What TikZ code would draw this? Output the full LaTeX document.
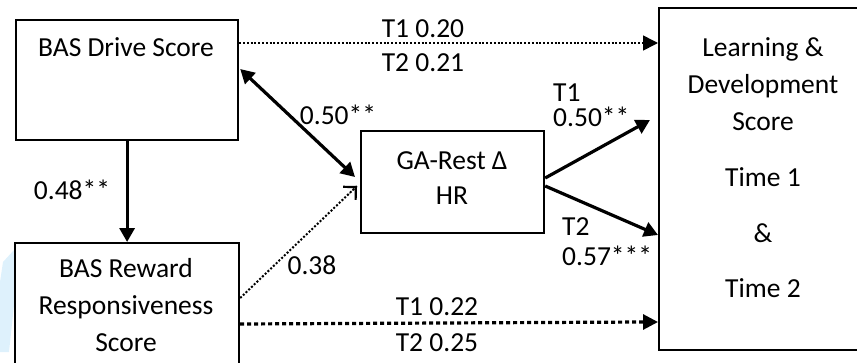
\documentclass[tikz,border=0pt]{standalone}
\usepackage{fontspec}
\setmainfont{Carlito}
\usetikzlibrary{arrows.meta,calc}
\definecolor{wm}{RGB}{222,241,252}
\begin{document}
\begin{tikzpicture}[x=1pt,y=-1pt,
  font=\fontsize{27.5}{37}\selectfont,
  box/.style={draw, line width=2.2pt, inner sep=0pt, anchor=north west},
  txt/.style={inner sep=0pt, align=center},
  solidarr/.style={line width=3.2pt, -{Triangle[length=14pt,width=15pt]}},
  dblarr/.style={line width=3.2pt, {Triangle[length=14pt,width=15pt]}-{Triangle[length=14pt,width=15pt]}},
  thindot/.style={line width=2pt, dash pattern=on 2pt off 1.8pt},
  thickdot/.style={line width=3.2pt, dash pattern=on 4pt off 3pt},
  filltip/.style={-{Triangle[length=15pt,width=15pt]}},
  opentip/.style={-{Straight Barb[length=9pt,width=18pt,line width=2.2pt]}}
]
\clip (0,0) rectangle (857,362);
\useasboundingbox (0,0) rectangle (857,362);
% watermark
\fill[wm] (3,262) -- (14,250) -- (14,305) -- (9,352) -- (0,352) -- (0,282) -- cycle;
% boxes
\node[box, minimum width=222pt, minimum height=120pt] (drive) at (15,19) {};
\node[box, minimum width=224pt, minimum height=140pt] (reward) at (14,242) {};
\node[box, minimum width=183pt, minimum height=102pt] (ga) at (360,130) {};
\node[box, minimum width=230pt, minimum height=342pt] (learn) at (658,7) {};
% texts
\node[txt] (tdrive) at (126,47) {BAS Drive Score};
\node[txt] (treward) at (126,305) {BAS Reward\\Responsiveness\\Score};
\node[txt, font=\fontsize{27.5}{35}\selectfont] (tga) at (452,178) {GA-Rest Δ\\HR};
\node[txt] (tlearn) at (763,84) {Learning \&\\Development\\Score};
\node[txt] (ttime1) at (763,177) {Time 1};
\node[txt] (tamp) at (763,233) {\&};
\node[txt] (ttime2) at (763,288) {Time 2};
% anchor coordinates
\coordinate (d1) at ($(drive.north east)+(0,24)$);
\coordinate (l1) at ($(learn.north west)+(0,36)$);
\coordinate (d2) at ($(drive.north east)+(1,50)$);
\coordinate (g2) at ($(ga.north west)+(-5,47)$);
\coordinate (r3) at ($(reward.north east)+(0,56)$);
\coordinate (g3) at ($(ga.north west)+(-3,56)$);
\coordinate (r4) at ($(reward.north east)+(0,82)$);
\coordinate (l4) at ($(learn.north west)+(0,315)$);
\coordinate (g5) at ($(ga.north east)+(0,48)$);
\coordinate (l5) at ($(learn.north west)+(-8,113)$);
\coordinate (g6) at ($(ga.north east)+(0,56)$);
\coordinate (l6) at ($(learn.north west)+(0,228)$);
% connectors
\draw[thindot] (d1) -- ($(l1)+(-14,0)$);
\draw[filltip, line width=1.6pt] ($(l1)+(-14,0)$) -- (l1);
\draw[dblarr] (d2) -- (g2);
\draw[solidarr] (drive.south) -- (reward.north);
\draw[thindot] (r3) -- (g3);
\draw[opentip, line width=0.1pt, draw=black] ($(r3)!0.93!(g3)$) -- (g3);
\draw[thickdot] (r4) -- ($(l4)+(-14,0)$);
\draw[filltip, line width=3pt] ($(l4)+(-14,0)$) -- (l4);
\draw[solidarr] (g5) -- (l5);
\draw[solidarr] (g6) -- (l6);
% labels
\node[txt] (a1) at (423,29) {T1 0.20};
\node[txt] (a2) at (423,63) {T2 0.21};
\node[txt] (a3) at (338,115) {0.50**};
\node[txt] (a4) at (72,190) {0.48**};
\node[txt] (a5) at (312,265) {0.38};
\node[txt] (a6) at (437,307) {T1 0.22};
\node[txt] (a7) at (437,343) {T2 0.25};
\node[txt, anchor=west] (a8) at (553,93) {T1};
\node[txt, anchor=west] (a9) at (553,117) {0.50**};
\node[txt, anchor=west] (a10) at (562,227) {T2};
\node[txt, anchor=west] (a11) at (562,256) {0.57***};
\end{tikzpicture}
\end{document}
